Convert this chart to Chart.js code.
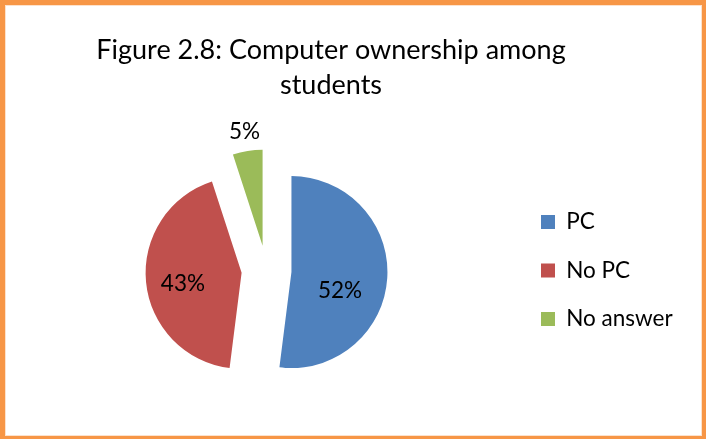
<!DOCTYPE html>
<html>
<head>
<meta charset="utf-8">
<script src="https://cdn.jsdelivr.net/npm/chart.js@4/dist/chart.umd.min.js"></script>
<style>
  html, body { margin: 0; padding: 0; background: #fff; }
  #frame {
    position: absolute; left: 0; top: 0; width: 706px; height: 439px;
    box-sizing: border-box;
    border-style: solid; border-color: #F79646;
    border-width: 5px 4px 3px 5px;
    box-shadow: inset 0 0 0 1px #FDE2CC;
  }
  #chart { position: absolute; left: 0; top: 0; }
</style>
</head>
<body>
<div id="frame"></div>
<canvas id="chart" width="706" height="439"></canvas>
<script>
// Survey answers: does the student own a computer?
const categories = ['PC', 'No PC', 'No answer'];
const shares = [52, 43, 5];           // percent of students
const titleLines = ['Figure 2.8: Computer ownership among', 'students'];

const sliceColors = ['#4F81BD', '#C0504D', '#9BBB59'];
const FONT = 'Lato, "Open Sans", sans-serif';
const CANVAS_W = 706;
const pieRadius = 96;     // px
const pullOut = 25;       // px every wedge is pulled away from the centre
const pieCentreX = 266.5;
const titleCentreX = 331;
const textSize = 22.5;    // legend and percentage labels
const legendPad = 26;
const legendBox = 14;
const legendLeft = 515;   // left edge of the legend block

// where each percentage sits: distance from the wedge tip (in radii) and a turn (deg) off its middle line
const labelSpots = [
  { dist: 0.54, turn: 17 },
  { dist: 0.62, turn: -4.3 },
  { dist: 1.21, turn: 0 }
];

// width the legend will claim, so the pie area can be sized around it
const measure = document.createElement('canvas').getContext('2d');
measure.font = textSize + 'px ' + FONT;
const longestLabel = Math.max(...categories.map(c => measure.measureText(c).width));
const legendWidth = legendPad + legendBox + textSize / 2 + longestLabel + 10;
const padLeft = 2 * pieCentreX - legendLeft;
const padRight = CANVAS_W - legendLeft - legendWidth;

// Chart.js widens an exploded wedge a little and trims its angle; undo that so
// every wedge keeps the same radius and its true share of the circle.
const evenWedges = {
  id: 'evenWedges',
  afterDatasetUpdate(chart, args) {
    args.meta.data.forEach(arc => {
      const pull = (arc.options.offset || 0) / 4;
      const grow = pull * (1 - Math.sin(Math.min(Math.PI, arc.circumference)));
      const alpha = arc.endAngle - arc.startAngle;
      const beta = Math.max(0.001, alpha * pieRadius - grow / Math.PI) / pieRadius;
      const trim = alpha - beta;
      arc.outerRadius = pieRadius - grow;
      arc.startAngle -= trim / 2;
      arc.endAngle += trim / 2;
    });
  }
};

// centre the title over the pie and legend together
const titleOverBlock = {
  id: 'titleOverBlock',
  afterLayout(chart) {
    const t = chart.titleBlock;
    if (!t) return;
    const shift = titleCentreX - (t.left + t.right) / 2;
    t.left += shift;
    t.right += shift;
  }
};

// percentage labels on / next to each wedge
const shareLabels = {
  id: 'shareLabels',
  afterDatasetsDraw(chart) {
    const meta = chart.getDatasetMeta(0);
    const ctx = chart.ctx;
    ctx.save();
    ctx.font = textSize + 'px ' + FONT;
    ctx.fillStyle = '#000';
    ctx.textAlign = 'center';
    ctx.textBaseline = 'alphabetic';
    meta.data.forEach((arc, i) => {
      const mid = (arc.startAngle + arc.endAngle) / 2;
      const pull = (arc.options.offset || 0) / 4;
      const tipX = arc.x + Math.cos(mid) * pull;
      const tipY = arc.y + Math.sin(mid) * pull;
      const spot = labelSpots[i];
      const a = mid + spot.turn * Math.PI / 180;
      const cx = tipX + Math.cos(a) * spot.dist * pieRadius;
      const cy = tipY + Math.sin(a) * spot.dist * pieRadius;
      ctx.fillText(shares[i] + '%', cx, cy + textSize * 0.36);
    });
    ctx.restore();
  }
};

new Chart(document.getElementById('chart'), {
  type: 'pie',
  data: {
    labels: categories,
    datasets: [{
      data: shares,
      backgroundColor: sliceColors,
      borderWidth: 0,
      offset: pullOut * 4
    }]
  },
  options: {
    responsive: false,
    devicePixelRatio: 1,
    animation: false,
    radius: pieRadius,
    layout: { padding: { left: padLeft, right: padRight, top: 5, bottom: 1.25 } },
    plugins: {
      title: {
        display: true,
        text: titleLines,
        color: '#000',
        font: { family: FONT, size: 27, weight: 'normal', lineHeight: 1.315 },
        padding: { top: 27.25, bottom: 0 }
      },
      legend: {
        position: 'right',
        fullSize: false,
        labels: {
          color: '#000',
          font: { family: FONT, size: textSize },
          boxWidth: legendBox,
          boxHeight: legendBox,
          padding: legendPad
        }
      },
      tooltip: { enabled: false }
    }
  },
  plugins: [evenWedges, titleOverBlock, shareLabels]
});
</script>
</body>
</html>
